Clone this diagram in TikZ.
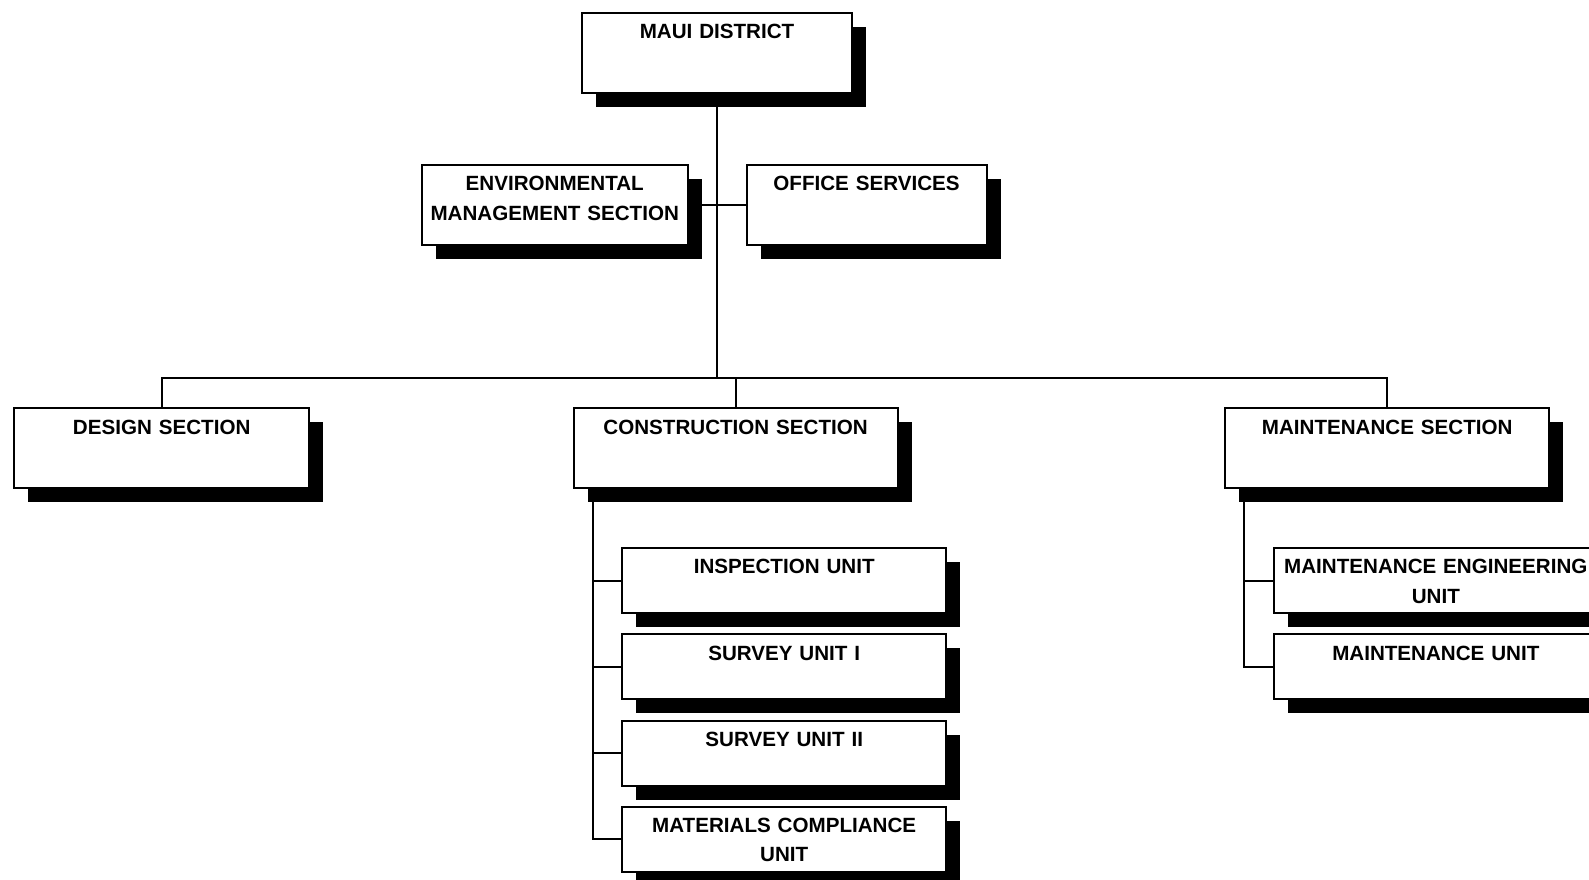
\documentclass[tikz,border=0pt]{standalone}
\usepackage{fontspec}
\setmainfont{Liberation Sans}
\usetikzlibrary{positioning,shadows}
\tikzset{
  orgbox/.style={draw=black,line width=1pt,fill=white,inner sep=0pt,outer sep=0pt,align=center,text height=12.8pt,text depth=27.2pt,font=\fontsize{10.3}{14.7}\selectfont\bfseries,drop shadow={shadow xshift=7pt,shadow yshift=-7pt,fill=black,opacity=1}},
  unitbox/.style={orgbox,text width=162pt,text depth=19.7pt},
  link/.style={line width=1pt,draw=black}
}
\begin{document}
\begin{tikzpicture}[node distance=10.6pt]
  \useasboundingbox (0,0) rectangle (794.5pt,-439.5pt);
  \node[orgbox,text width=135pt] (maui) at (358.5pt,-26.5pt) {MAUI DISTRICT};
  \coordinate[below=56pt of maui] (hub);
  \node[orgbox,text width=132.75pt,left=14.75pt of hub] (env) {ENVIRONMENTAL\\MANAGEMENT SECTION};
  \node[orgbox,text width=120pt,right=14.75pt of hub] (office) {OFFICE SERVICES};
  \coordinate[below=86.5pt of hub] (bus);
  \node[orgbox,text width=162pt,below=15.2pt of bus,xshift=9.3pt] (constr) {CONSTRUCTION SECTION};
  \node[orgbox,text width=147.5pt,left=132.2pt of constr] (design) {DESIGN SECTION};
  \node[orgbox,text width=162pt,right=163.8pt of constr] (maint) {MAINTENANCE SECTION};
  \node[unitbox,below right=29.9pt and 24.3pt of constr.south west] (insp) {INSPECTION UNIT};
  \node[unitbox,below=of insp] (survA) {SURVEY UNIT I};
  \node[unitbox,below=of survA] (survB) {SURVEY UNIT II};
  \node[unitbox,below=of survB] (matc) {MATERIALS COMPLIANCE\\UNIT};
  \node[unitbox,below right=29.9pt and 24.3pt of maint.south west] (mengr) {MAINTENANCE ENGINEERING\\UNIT};
  \node[unitbox,below=of mengr] (munit) {MAINTENANCE UNIT};
  \draw[link] (maui) -- (bus);
  \draw[link] (env) -- (office);
  \draw[link] (design) |- (bus) -| (maint);
  \draw[link] (constr) -- (constr |- bus);
  \foreach \u in {insp,survA,survB,matc}
    \draw[link] ([xshift=9.6pt]constr.south west) |- (\u);
  \foreach \u in {mengr,munit}
    \draw[link] ([xshift=9.15pt]maint.south west) |- (\u);
\end{tikzpicture}
\end{document}
